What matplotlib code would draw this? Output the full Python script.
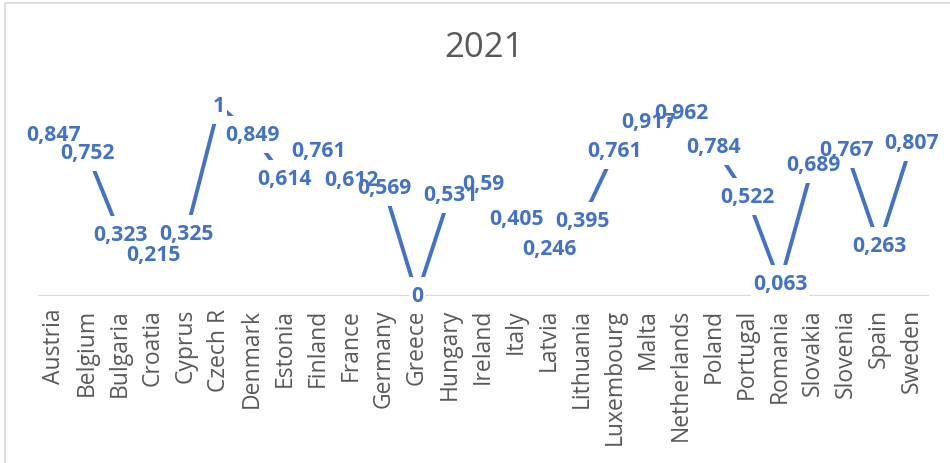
import matplotlib
matplotlib.use("Agg")
import matplotlib.pyplot as plt
from matplotlib.patches import Rectangle
from matplotlib.path import Path

countries = ["Austria", "Belgium", "Bulgaria", "Croatia", "Cyprus", "Czech R",
             "Denmark", "Estonia", "Finland", "France", "Germany", "Greece",
             "Hungary", "Ireland", "Italy", "Latvia", "Lithuania", "Luxembourg",
             "Malta", "Netherlands", "Poland", "Portugal", "Romania", "Slovakia",
             "Slovenia", "Spain", "Sweden"]
scores = [0.847, 0.752, 0.323, 0.215, 0.325, 1, 0.849, 0.614, 0.761, 0.612,
          0.569, 0, 0.531, 0.59, 0.405, 0.246, 0.395, 0.761, 0.917, 0.962,
          0.784, 0.522, 0.063, 0.689, 0.767, 0.263, 0.807]
title = "2021"

BLUE = "#4472C4"
GRAY = "#595959"
W, H = 950, 464


class LabelBox:
    """Rectangular box with separate horizontal and vertical padding."""

    def __init__(self, padx=0.08, pady=0.38):
        self.padx = padx
        self.pady = pady

    def __call__(self, x0, y0, width, height, mutation_size, *args):
        px = self.padx * mutation_size
        py = self.pady * mutation_size
        x0, y0 = x0 - px, y0 - py
        x1, y1 = x0 + width + 2 * px, y0 + height + 2 * py
        return Path([(x0, y0), (x1, y0), (x1, y1), (x0, y1), (x0, y0)], closed=True)


fig = plt.figure(figsize=(W / 100, H / 100), dpi=100)
fig.patch.set_facecolor("white")

# chart border
fig.add_artist(Rectangle((5 / W, -0.05), 1.1, 1.05 - 4 / H, transform=fig.transFigure,
                         fill=False, edgecolor="#D9D9D9", linewidth=1.2))

ax = fig.add_axes([37.5 / W, (H - 296.5) / H, 891 / W, 190 / H])
x = list(range(len(countries)))
ax.plot(x, scores, color=BLUE, linewidth=2.8, solid_capstyle="butt", zorder=2)
ax.axhline(0, color="#D9D9D9", linewidth=1.6, zorder=1)

font = dict(fontsize=15.2, fontweight="bold", family=["Open Sans", "DejaVu Sans"],
            ha="center", va="center", clip_on=False)
for i, v in enumerate(scores):
    label = f"{v:g}".replace(".", ",")
    # white backing that hides the line around the label
    ax.text(i, v, label, color="white", zorder=3,
            bbox=dict(boxstyle=LabelBox(), fc="white", ec="none"), **font)
    ax.text(i, v, label, color=BLUE, zorder=4, **font)

ax.set_xlim(-0.5, len(countries) - 0.5)
ax.set_ylim(0, 1)
ax.set_xticks(x)
ax.set_xticklabels(countries, rotation=90, color=GRAY, fontsize=16.5,
                   family=["Open Sans", "DejaVu Sans"])
ax.tick_params(axis="x", length=0, pad=9)
ax.set_yticks([])
for s in ax.spines.values():
    s.set_visible(False)
ax.patch.set_alpha(0)

fig.text(484 / W, 1 - 48 / H, title, ha="center", va="center", color=GRAY,
         fontsize=25, family=["Open Sans", "DejaVu Sans"])

fig.savefig("out.png", dpi=100, facecolor="white")
